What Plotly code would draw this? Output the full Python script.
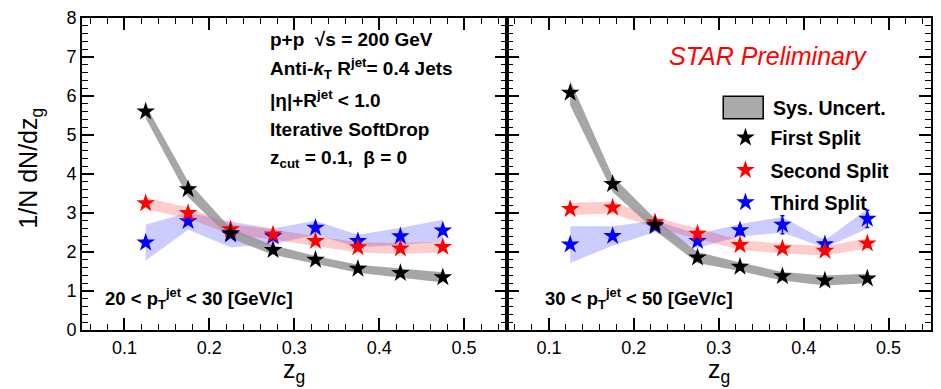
import plotly.graph_objects as go

# ---------------- data ----------------
zg = [0.125, 0.175, 0.225, 0.275, 0.325, 0.375, 0.425, 0.475]

# 20 < pT < 30 GeV/c
first_2030 = [5.60, 3.61, 2.48, 2.05, 1.80, 1.57, 1.46, 1.35]
first_2030_sys = [0.17, 0.20, 0.13, 0.12, 0.10, 0.10, 0.12, 0.13]
first_2030_stat = [0.05, 0.04, 0.03, 0.03, 0.03, 0.03, 0.03, 0.03]
second_2030 = [3.25, 3.00, 2.58, 2.45, 2.28, 2.12, 2.09, 2.13]
second_2030_sys = [0.15, 0.14, 0.13, 0.13, 0.13, 0.13, 0.14, 0.14]
second_2030_stat = [0.05, 0.04, 0.04, 0.04, 0.04, 0.04, 0.04, 0.05]
third_2030 = [2.24, 2.79, 2.45, 2.40, 2.62, 2.28, 2.40, 2.55]
third_2030_sys = [0.46, 0.22, 0.33, 0.20, 0.18, 0.16, 0.22, 0.28]
third_2030_stat = [0.06, 0.05, 0.05, 0.05, 0.06, 0.06, 0.07, 0.08]

# 30 < pT < 50 GeV/c
first_3050 = [6.08, 3.74, 2.70, 1.86, 1.62, 1.38, 1.27, 1.32]
first_3050_sys = [0.32, 0.20, 0.15, 0.14, 0.11, 0.11, 0.13, 0.12]
first_3050_stat = [0.08, 0.06, 0.05, 0.04, 0.04, 0.04, 0.04, 0.05]
second_3050 = [3.10, 3.14, 2.76, 2.47, 2.18, 2.09, 2.03, 2.22]
second_3050_sys = [0.16, 0.15, 0.14, 0.13, 0.13, 0.12, 0.12, 0.13]
second_3050_stat = [0.06, 0.06, 0.06, 0.06, 0.07, 0.07, 0.08, 0.09]
third_3050 = [2.19, 2.41, 2.66, 2.28, 2.56, 2.70, 2.20, 2.85]
third_3050_sys = [0.47, 0.25, 0.15, 0.18, 0.16, 0.20, 0.10, 0.25]
third_3050_stat = [0.08, 0.08, 0.08, 0.09, 0.12, 0.23, 0.10, 0.22]

series_names = ["First Split", "Second Split", "Third Split"]
marker_colors = ["#000000", "#ff0000", "#0000ff"]
band_colors = ["rgba(150,150,150,0.85)", "rgba(255,0,0,0.2)", "rgba(0,0,255,0.2)"]

x_ticks = [0.1, 0.2, 0.3, 0.4, 0.5]
y_ticks = [0, 1, 2, 3, 4, 5, 6, 7, 8]

panels = [
    dict(xa="x", ya="y",
         vals=[first_2030, second_2030, third_2030],
         sys=[first_2030_sys, second_2030_sys, third_2030_sys],
         stat=[first_2030_stat, second_2030_stat, third_2030_stat],
         legend=False),
    dict(xa="x2", ya="y2",
         vals=[first_3050, second_3050, third_3050],
         sys=[first_3050_sys, second_3050_sys, third_3050_sys],
         stat=[first_3050_stat, second_3050_stat, third_3050_stat],
         legend=True),
]

FONT = "Liberation Sans, Arial, Helvetica, sans-serif"

fig = go.Figure()

for p in panels:
    # bands: third (blue), second (red), first (gray) -> gray drawn on top
    for i in [2, 1, 0]:
        v, e = p["vals"][i], p["sys"][i]
        upper = [a + b for a, b in zip(v, e)]
        lower = [a - b for a, b in zip(v, e)]
        fig.add_trace(go.Scatter(
            x=zg + zg[::-1], y=upper + lower[::-1],
            fill="toself", fillcolor=band_colors[i],
            line=dict(width=0), mode="lines",
            hoverinfo="skip", showlegend=False,
            xaxis=p["xa"], yaxis=p["ya"]))
    for i in [2, 1, 0]:
        fig.add_trace(go.Scatter(
            x=zg, y=p["vals"][i], mode="markers",
            name=series_names[i], legendgroup=series_names[i],
            marker=dict(symbol="star", size=14, color=marker_colors[i],
                        line=dict(width=0)),
            error_y=dict(type="data", array=p["stat"][i], color=marker_colors[i],
                         thickness=1.5, width=2),
            showlegend=p["legend"], legendrank=i + 1,
            xaxis=p["xa"], yaxis=p["ya"]))

axis_common = dict(
    showline=True, linecolor="black", linewidth=2, mirror="ticks",
    ticks="inside", ticklen=12, tickwidth=1.5, tickcolor="black",
    showgrid=False, zeroline=False,
    tickfont=dict(family=FONT, size=18, color="black"),
)

xcommon = dict(axis_common, range=[0.05, 0.55], tickvals=x_ticks,
               ticktext=[f"{t:.1f}" for t in x_ticks],
               minor=dict(ticks="inside", ticklen=6, tickwidth=1.2,
                          tickcolor="black", dtick=0.02, tick0=0.0))
ycommon = dict(axis_common, range=[0, 8], tickvals=y_ticks,
               minor=dict(ticks="inside", ticklen=6, tickwidth=1.2,
                          tickcolor="black", dtick=0.2, tick0=0.0))

fig.update_layout(
    width=941, height=389,
    margin=dict(l=82, r=8, t=11, b=59),
    paper_bgcolor="white", plot_bgcolor="white",
    font=dict(family=FONT, color="black"),
    xaxis=dict(xcommon, domain=[0, 0.5], anchor="y"),
    yaxis=dict(ycommon, domain=[0, 1], anchor="x"),
    xaxis2=dict(xcommon, domain=[0.5, 1], anchor="y2"),
    yaxis2=dict(ycommon, domain=[0, 1], anchor="x2", showticklabels=False),
    showlegend=True,
    legend=dict(x=0.752, y=0.678, xanchor="left", yanchor="top",
                bgcolor="rgba(0,0,0,0)", itemwidth=40,
                font=dict(family=FONT, size=19.5, color="black", weight="bold"),
                tracegroupgap=4),
)

def ann(text, x, y, xref, yref, size=19, color="black", xanchor="left",
        yanchor="middle", textangle=0, weight="bold", style="normal"):
    fig.add_annotation(text=text, x=x, y=y, xref=xref, yref=yref,
                       showarrow=False, xanchor=xanchor, yanchor=yanchor,
                       textangle=textangle,
                       font=dict(family=FONT, size=size, color=color,
                                 weight=weight, style=style))

# left panel text block
lx = 0.437
ann("p+p  √s = 200 GeV", lx, (330 - 33) / 319, "x domain", "y domain")
ann("Anti-<i>k</i><sub>T</sub> R<sup>jet</sup>= 0.4 Jets", lx, (330 - 63) / 319, "x domain", "y domain")
ann("|η|+R<sup>jet</sup> &lt; 1.0", lx, (330 - 94) / 319, "x domain", "y domain")
ann("Iterative SoftDrop", lx, (330 - 125) / 319, "x domain", "y domain")
ann("z<sub>cut</sub> = 0.1,  β = 0", lx, (330 - 155) / 319, "x domain", "y domain")

ann("20 &lt; p<sub>T</sub><sup>jet</sup> &lt; 30 [GeV/c]", 0.049, (330 - 298) / 319, "x domain", "y domain", size=18.5)
ann("30 &lt; p<sub>T</sub><sup>jet</sup> &lt; 50 [GeV/c]", 0.087, (330 - 298) / 319, "x2 domain", "y2 domain", size=18.5)

ann("STAR Preliminary", 0.617, (330 - 50) / 319, "x2 domain", "y2 domain",
    size=25, color="#ff0000", xanchor="center", weight="normal", style="italic")

# axis titles
ann("1/N dN/dz<sub>g</sub>", (30 - 82) / 850, (330 - 165) / 319, "paper", "paper",
    size=25, xanchor="center", textangle=-90, weight="normal")
ann("z<sub>g</sub>", 0.5, (330 - 372) / 319, "x domain", "y domain",
    size=25, xanchor="center", weight="normal")
ann("z<sub>g</sub>", 0.5, (330 - 372) / 319, "x2 domain", "y2 domain",
    size=25, xanchor="center", weight="normal")

# legend entry for systematic uncertainty box
fig.add_shape(type="rect", xref="paper", yref="paper",
              x0=(724 - 82) / 850, x1=(764 - 82) / 850,
              y0=(330 - 114) / 319, y1=(330 - 91) / 319,
              fillcolor="#aaaaaa", line=dict(color="black", width=1.5))
ann("Sys. Uncert.", (772 - 82) / 850, (330 - 103) / 319, "paper", "paper", size=19.5)

fig.write_html("out.html", config={"displayModeBar": False},
               post_script="document.body.style.margin='0px';document.body.style.overflow='hidden';")
